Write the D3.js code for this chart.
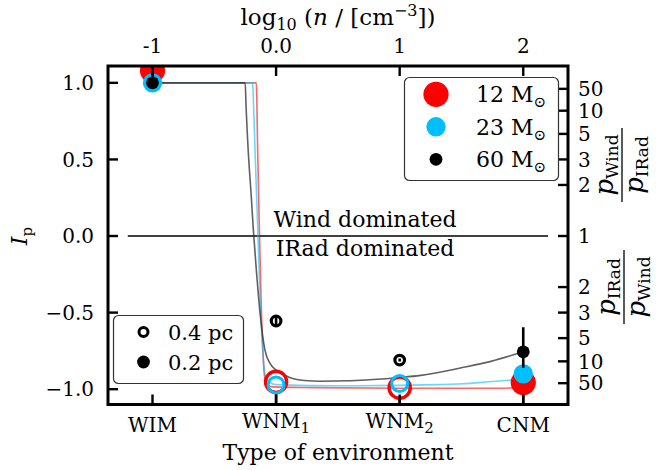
<!DOCTYPE html>
<html><head><meta charset="utf-8">
<script src="https://cdn.jsdelivr.net/npm/d3@7"></script>
<style>
body{margin:0;background:#fff}
text{font-family:"DejaVu Serif",serif;fill:#000}
</style>
</head><body>
<svg id="chart" width="659" height="470"></svg>
<script>
// ---------------- data ----------------
const categories = ["WIM", "WNM", "WNM", "CNM"];
const categorySubs = ["", "1", "2", ""];
const categoryLogN = [-1, 0, 1, 2];
const topTickValues = [-1, 0, 1, 2];
const topTickLabels = ["-1", "0.0", "1", "2"];
const yTickValues = [-1, -0.5, 0, 0.5, 1];
const yTickLabels = ["\u22121.0", "\u22120.5", "0.0", "0.5", "1.0"];
const ratioTickValues = [50, 10, 5, 3, 2];

// markers: I_p at each environment (WIM, WNM1, WNM2, CNM)
const masses = ["12", "23", "60"];
const ip12 = [1.08, -0.952, -0.99, -0.957];
const ip23 = [1.0, -0.972, -0.963, -0.90];
const ip60 = [1.0, -0.555, -0.81, -0.756];
const isOpen = [false, true, true, false]; // open = 0.4 pc, filled = 0.2 pc

// error bars (log n, low, high)
const err12X = [0, 1, 2];
const err12Lo = [-1.15, -1.15, -1.15];
const err12Hi = [-1.03, -1.06, -1.04];
const err60X = [-1, 0, 1, 2];
const err60Lo = [1.0, -0.585, -0.82, -0.86];
const err60Hi = [1.15, -0.53, -0.80, -0.595];

// fitted curves
const curve12X = [-1, -0.16, -0.156, -0.15, -0.135, -0.12, -0.105, -0.093, -0.07, -0.03, 0.3, 1, 1.7, 2];
const curve12Y = [1.0, 1.0, 0.9, 0.6, 0.04, -0.45, -0.78, -0.92, -0.97, -0.985, -0.99, -0.994, -0.994, -0.99];
const curve23X = [-1, -0.19, -0.184, -0.17, -0.148, -0.13, -0.11, -0.09, -0.06, 0, 0.5, 1, 1.3, 1.5, 1.75, 2];
const curve23Y = [1.0, 1.0, 0.9, 0.55, 0.04, -0.4, -0.72, -0.9, -0.95, -0.97, -0.978, -0.975, -0.97, -0.965, -0.95, -0.935];
const curve60X = [-1, -0.25, -0.243, -0.225, -0.2, -0.184, -0.16, -0.13, -0.09, -0.05, 0, 0.1, 0.23, 0.36, 0.6, 1, 1.17, 1.5, 1.73, 2];
const curve60Y = [1.0, 1.0, 0.85, 0.55, 0.25, 0.04, -0.22, -0.5, -0.745, -0.83, -0.875, -0.92, -0.943, -0.948, -0.945, -0.924, -0.91, -0.86, -0.82, -0.756];

const hlineX = [-1.2, 2.2];

// ---------------- layout ----------------
const L = 108, R = 568, T = 66, B = 404.5;
const svg = d3.select("#chart");
const x = d3.scaleLinear().domain([-1.36, 2.362]).range([L, R]);
const y = d3.scaleLinear().domain([-1.1, 1.11]).range([B, T]);

const FS = 22, TFS = 20;
const colors = {"12": "#ff0000", "23": "#00bfff", "60": "#000000"};
const lineColors = {"12": "#ff0000", "23": "#00bfff", "60": "#333333"};
const lineOpacity = {"12": 0.6, "23": 0.6, "60": 0.78};
const rFilled = {"12": 12.6, "23": 9.7, "60": 6.4};
const rOpen = {"12": 10.6, "23": 8.0, "60": 4.8};
const ringW = {"12": 3.4, "23": 3.0, "60": 3.2};

svg.append("defs").append("clipPath").attr("id", "clip")
  .append("rect").attr("x", L).attr("y", T).attr("width", R - L).attr("height", B - T);
const plot = svg.append("g").attr("clip-path", "url(#clip)");

// horizontal line at 0
plot.append("line").attr("x1", x(hlineX[0])).attr("x2", x(hlineX[1]))
  .attr("y1", y(0)).attr("y2", y(0)).attr("stroke", "#000").attr("stroke-width", 1.5);

// curves
const lineGen = d3.line().x(d => x(d[0])).y(d => y(d[1])).curve(d3.curveMonotoneX);
[["12", curve12X, curve12Y], ["23", curve23X, curve23Y], ["60", curve60X, curve60Y]].forEach(([m, cx, cy]) => {
  plot.append("path").datum(cx.map((v, i) => [v, cy[i]]))
    .attr("d", lineGen).attr("fill", "none")
    .attr("stroke", lineColors[m]).attr("stroke-opacity", lineOpacity[m]).attr("stroke-width", 1.6);
});

function drawErr(ex, lo, hi) {
  ex.forEach((v, i) => {
    plot.append("line").attr("x1", x(v)).attr("x2", x(v))
      .attr("y1", y(lo[i])).attr("y2", y(hi[i]))
      .attr("stroke", "#000").attr("stroke-width", 2.6);
  });
}
function drawMarkers(m, vals) {
  vals.forEach((v, i) => {
    const c = plot.append("circle").attr("cx", x(categoryLogN[i])).attr("cy", y(v));
    if (isOpen[i]) {
      c.attr("r", rOpen[m]).attr("fill", "none").attr("stroke", colors[m]).attr("stroke-width", ringW[m]);
    } else {
      c.attr("r", rFilled[m]).attr("fill", colors[m]);
    }
  });
}
drawErr(err12X, err12Lo, err12Hi);
drawMarkers("12", ip12);
drawMarkers("23", ip23);
drawErr(err60X, err60Lo, err60Hi);
drawMarkers("60", ip60);

// ---------------- axes ----------------
const axG = svg.append("g");
const tickLen = 10, tickW = 2.4;
yTickValues.forEach((v, i) => {
  axG.append("line").attr("x1", L).attr("x2", L + tickLen).attr("y1", y(v)).attr("y2", y(v))
    .attr("stroke", "#000").attr("stroke-width", tickW);
  axG.append("text").attr("x", L - 14).attr("y", y(v)).attr("dy", "0.36em")
    .attr("text-anchor", "end").style("font-size", TFS + "px").text(yTickLabels[i]);
});
const rightVals = [];
ratioTickValues.forEach(r => rightVals.push([(r - 1) / (r + 1), r]));
rightVals.push([0, 1]);
ratioTickValues.slice().reverse().forEach(r => rightVals.push([-(r - 1) / (r + 1), r]));
rightVals.forEach(([v, r]) => {
  axG.append("line").attr("x1", R - tickLen).attr("x2", R).attr("y1", y(v)).attr("y2", y(v))
    .attr("stroke", "#000").attr("stroke-width", tickW);
  axG.append("text").attr("x", R + 10).attr("y", y(v)).attr("dy", "0.36em")
    .attr("text-anchor", "start").style("font-size", TFS + "px").text(r);
});
categoryLogN.forEach((v, i) => {
  axG.append("line").attr("x1", x(v)).attr("x2", x(v)).attr("y1", B).attr("y2", B - tickLen)
    .attr("stroke", "#000").attr("stroke-width", tickW);
  const t = axG.append("text").attr("x", x(v)).attr("y", categorySubs[i] ? 428 : 431.5)
    .attr("text-anchor", "middle").style("font-size", TFS + "px");
  t.append("tspan").text(categories[i]);
  if (categorySubs[i]) t.append("tspan").attr("dy", 5).style("font-size", "15px").text(categorySubs[i]);
});
topTickValues.forEach((v, i) => {
  axG.append("line").attr("x1", x(v)).attr("x2", x(v)).attr("y1", T).attr("y2", T + tickLen)
    .attr("stroke", "#000").attr("stroke-width", tickW);
  axG.append("text").attr("x", x(v)).attr("y", 53).attr("text-anchor", "middle")
    .style("font-size", TFS + "px").text(topTickLabels[i]);
});
axG.append("rect").attr("x", L).attr("y", T).attr("width", R - L).attr("height", B - T)
  .attr("fill", "none").attr("stroke", "#000").attr("stroke-width", 3);

// ---------------- labels ----------------
const tt = svg.append("text").attr("x", (L + R) / 2).attr("y", 25).attr("text-anchor", "middle")
  .style("font-size", "23px");
tt.append("tspan").text("log");
tt.append("tspan").attr("dy", 5).style("font-size", "16px").text("10");
tt.append("tspan").attr("dy", -5).text(" (");
tt.append("tspan").style("font-style", "italic").text("n");
tt.append("tspan").text(" / [cm");
tt.append("tspan").attr("dy", -9).style("font-size", "16px").text("\u22123");
tt.append("tspan").attr("dy", 9).text("])");

svg.append("text").attr("x", (L + R) / 2).attr("y", 460).attr("text-anchor", "middle")
  .style("font-size", FS + "px").text("Type of environment");

const yl = svg.append("text").attr("transform", `translate(27,${y(0)}) rotate(-90)`)
  .attr("text-anchor", "middle").style("font-size", FS + "px");
yl.append("tspan").style("font-style", "italic").text("I");
yl.append("tspan").attr("dy", 5).style("font-size", "15px").text("p");

svg.append("text").attr("x", x(0.72)).attr("y", 227).attr("text-anchor", "middle")
  .style("font-size", FS + "px").text("Wind dominated");
svg.append("text").attr("x", x(0.72)).attr("y", 256).attr("text-anchor", "middle")
  .style("font-size", FS + "px").text("IRad dominated");

function fraction(cx, cy, num, den) {
  const g = svg.append("g").attr("transform", `translate(${cx},${cy}) rotate(-90)`);
  const n = g.append("text").attr("x", 0).attr("y", -9).attr("text-anchor", "middle").style("font-size", "26px");
  n.append("tspan").style("font-style", "italic").text("p");
  n.append("tspan").attr("dy", 5).style("font-size", "17px").text(num);
  const d = g.append("text").attr("x", 0).attr("y", 21).attr("text-anchor", "middle").style("font-size", "26px");
  d.append("tspan").style("font-style", "italic").text("p");
  d.append("tspan").attr("dy", 5).style("font-size", "17px").text(den);
  g.append("line").attr("x1", -37).attr("x2", 37).attr("y1", 0).attr("y2", 0)
    .attr("stroke", "#000").attr("stroke-width", 1.3);
}
fraction(622, 165, "Wind", "IRad");
fraction(624, 287, "IRad", "Wind");

// ---------------- legends ----------------
const lg1 = svg.append("g");
lg1.append("rect").attr("x", 404.5).attr("y", 77.5).attr("width", 154).attr("height", 103)
  .attr("rx", 5).attr("fill", "#fff").attr("stroke", "#333").attr("stroke-width", 1.2);
masses.forEach((m, i) => {
  const cy = 94.3 + i * 32.5;
  lg1.append("circle").attr("cx", 436).attr("cy", cy).attr("r", rFilled[m]).attr("fill", colors[m]);
  const t = lg1.append("text").attr("x", 476).attr("y", cy + 8).style("font-size", FS + "px");
  t.append("tspan").text(m + " M");
  t.append("tspan").attr("dy", 5).style("font-size", "15px").text("\u2299");
});
const lg2 = svg.append("g");
lg2.append("rect").attr("x", 113.5).attr("y", 315.5).attr("width", 130).attr("height", 68)
  .attr("rx", 5).attr("fill", "#fff").attr("stroke", "#333").attr("stroke-width", 1.2);
lg2.append("circle").attr("cx", 143.5).attr("cy", 332).attr("r", 4.5).attr("fill", "none")
  .attr("stroke", "#000").attr("stroke-width", 3);
lg2.append("text").attr("x", 168).attr("y", 340).style("font-size", "21px").text("0.4 pc");
lg2.append("circle").attr("cx", 143.5).attr("cy", 362).attr("r", 6.4).attr("fill", "#000");
lg2.append("text").attr("x", 168).attr("y", 370).style("font-size", "21px").text("0.2 pc");
</script>
</body></html>
